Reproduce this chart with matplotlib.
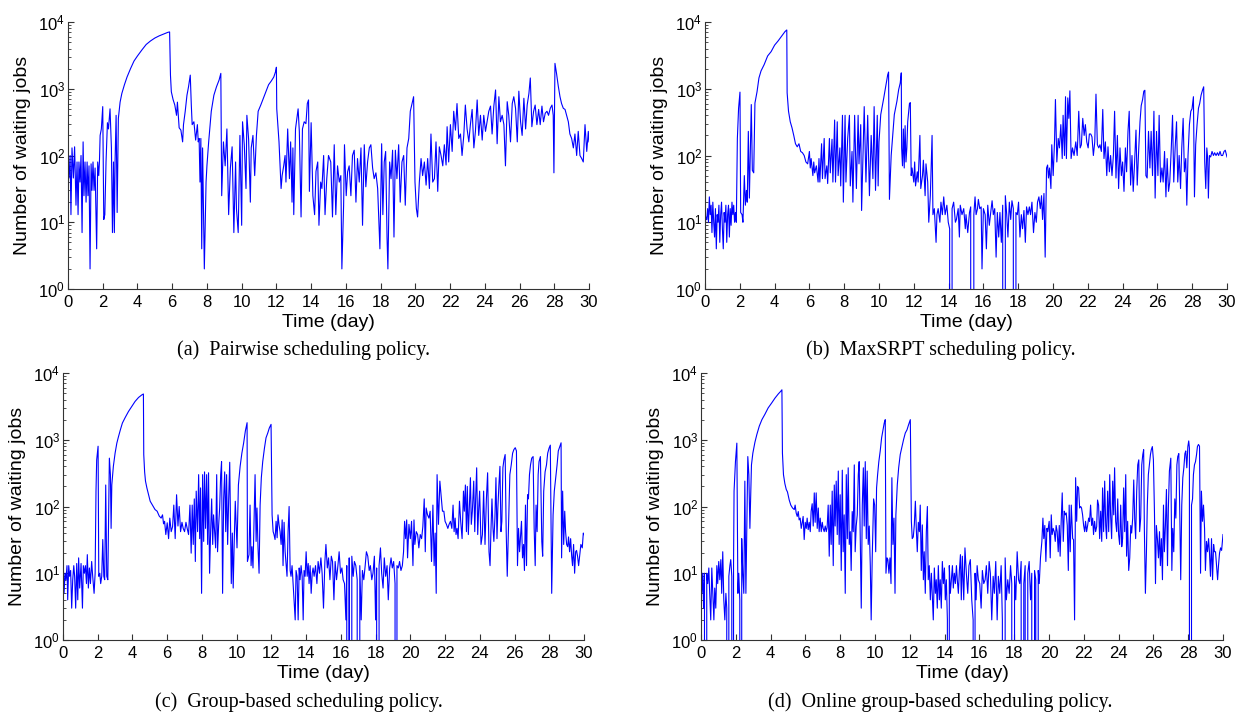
import numpy as np
import matplotlib.pyplot as plt
from matplotlib.ticker import LogLocator, NullFormatter

plt.rcParams['font.family'] = 'Liberation Sans'
plt.rcParams['mathtext.fontset'] = 'custom'
plt.rcParams['mathtext.rm'] = 'Liberation Sans'
plt.rcParams['mathtext.it'] = 'Liberation Sans:italic'

# (a) Pairwise
a_days = [0.0, 0.06, 0.12, 0.17, 0.23, 0.31, 0.38, 0.46, 0.52, 0.58,
          0.63, 0.69, 0.75, 0.81, 0.87, 0.92, 0.98, 1.04, 1.1, 1.15,
          1.21, 1.27, 1.33, 1.38, 1.44, 1.5, 1.56, 1.65, 1.71, 1.77,
          1.81, 1.85, 1.92, 2.0, 2.06, 2.12, 2.19, 2.27, 2.33, 2.42,
          2.5, 2.56, 2.62, 2.67, 2.71, 2.77, 2.83, 2.9, 3.0, 3.1,
          3.25, 3.4, 3.6, 3.8, 4.0, 4.25, 4.5, 4.75, 5.0, 5.25,
          5.5, 5.75, 5.85, 5.9, 5.95, 6.05, 6.15, 6.25, 6.3, 6.4,
          6.5, 6.6, 6.65, 6.75, 6.85, 6.94, 7.04, 7.1, 7.15, 7.25,
          7.35, 7.45, 7.5, 7.55, 7.6, 7.65, 7.7, 7.75, 7.85, 7.95,
          8.0, 8.1, 8.25, 8.4, 8.55, 8.7, 8.8, 8.85, 8.95, 9.05,
          9.15, 9.25, 9.35, 9.45, 9.55, 9.65, 9.7, 9.8, 9.9, 10.0,
          10.05, 10.15, 10.25, 10.3, 10.4, 10.5, 10.55, 10.65, 10.75, 10.85,
          10.95, 11.1, 11.25, 11.4, 11.55, 11.7, 11.85, 11.95, 12.0, 12.02,
          12.15, 12.27, 12.33, 12.42, 12.5, 12.55, 12.65, 12.75, 12.82, 12.9,
          12.95, 13.0, 13.1, 13.25, 13.32, 13.42, 13.5, 13.6, 13.7, 13.78,
          13.85, 13.9, 14.0, 14.1, 14.2, 14.28, 14.38, 14.45, 14.55, 14.62,
          14.72, 14.8, 14.9, 15.0, 15.13, 15.23, 15.33, 15.42, 15.52, 15.62,
          15.71, 15.77, 15.87, 15.92, 16.02, 16.1, 16.19, 16.29, 16.38, 16.48,
          16.58, 16.67, 16.77, 16.87, 16.96, 17.06, 17.15, 17.25, 17.35, 17.44,
          17.54, 17.63, 17.73, 17.83, 17.96, 18.06, 18.13, 18.21, 18.29, 18.37,
          18.42, 18.52, 18.6, 18.69, 18.77, 18.85, 18.94, 19.04, 19.13, 19.23,
          19.33, 19.42, 19.52, 19.62, 19.71, 19.81, 19.9, 19.98, 20.06, 20.13,
          20.23, 20.33, 20.42, 20.52, 20.62, 20.71, 20.81, 20.9, 21.0, 21.1,
          21.19, 21.29, 21.38, 21.48, 21.58, 21.67, 21.77, 21.83, 21.92, 22.02,
          22.12, 22.21, 22.31, 22.4, 22.5, 22.6, 22.69, 22.79, 22.88, 22.98,
          23.08, 23.17, 23.27, 23.37, 23.46, 23.56, 23.65, 23.75, 23.85, 23.94,
          24.04, 24.13, 24.23, 24.33, 24.42, 24.52, 24.62, 24.71, 24.81, 24.9,
          25.0, 25.1, 25.19, 25.29, 25.38, 25.48, 25.58, 25.67, 25.77, 25.87,
          25.96, 26.06, 26.15, 26.25, 26.35, 26.44, 26.54, 26.62, 26.71, 26.81,
          26.9, 27.0, 27.1, 27.19, 27.29, 27.38, 27.48, 27.58, 27.67, 27.77,
          27.87, 27.94, 27.98, 28.04, 28.13, 28.23, 28.33, 28.42, 28.52, 28.62,
          28.71, 28.81, 28.9, 29.0, 29.1, 29.19, 29.29, 29.38, 29.48, 29.58,
          29.67, 29.77, 29.87, 29.96, 30.0]
a_jobs = [72, 46, 100, 13, 130, 46, 135, 18, 80, 13,
          80, 40, 100, 7, 160, 25, 80, 20, 80, 25,
          70, 2, 75, 30, 80, 30, 65, 4, 80, 50,
          80, 200, 250, 540, 11, 13, 80, 310, 250, 500,
          130, 7, 80, 7, 80, 400, 14, 360, 630, 850,
          1150, 1500, 2000, 2600, 3100, 3800, 4600, 5200, 5750, 6200,
          6600, 7000, 7100, 1600, 900, 690, 570, 400, 630, 260,
          240, 160, 290, 460, 800, 1070, 1600, 570, 290, 320,
          170, 290, 160, 180, 40, 180, 4, 130, 2, 40,
          70, 160, 460, 800, 1070, 1350, 1700, 25, 160, 70,
          250, 13, 65, 135, 7, 80, 16, 7, 200, 9,
          320, 145, 32, 400, 175, 20, 130, 200, 50, 200,
          460, 570, 720, 900, 1150, 1300, 1500, 1800, 2100, 500,
          160, 32, 50, 70, 100, 40, 250, 45, 160, 20,
          130, 13, 250, 500, 230, 12, 250, 320, 300, 600,
          680, 29, 310, 25, 13, 58, 80, 9, 40, 32,
          100, 13, 45, 100, 80, 12, 145, 13, 70, 40,
          50, 2, 18, 145, 25, 57, 70, 25, 100, 120,
          20, 90, 40, 130, 9, 145, 34, 80, 130, 145,
          65, 45, 55, 32, 4, 150, 13, 80, 115, 6,
          2, 80, 45, 120, 6, 120, 45, 145, 20, 80,
          100, 18, 130, 180, 460, 600, 760, 40, 16, 12,
          40, 90, 50, 80, 36, 90, 32, 210, 40, 45,
          160, 29, 135, 100, 70, 145, 72, 270, 80, 290,
          115, 460, 240, 600, 180, 210, 100, 200, 570, 250,
          160, 290, 490, 130, 230, 680, 200, 400, 170, 400,
          230, 320, 460, 550, 210, 550, 960, 150, 760, 320,
          400, 290, 70, 640, 400, 160, 600, 760, 510, 160,
          920, 320, 200, 720, 250, 570, 850, 1450, 270, 460,
          570, 290, 490, 290, 550, 320, 430, 460, 400, 510,
          570, 400, 55, 2400, 1700, 1100, 760, 600, 510, 490,
          400, 320, 210, 180, 130, 210, 100, 230, 100, 90,
          80, 290, 115, 230, 160]

# (b) MaxSRPT
b_days = [0.0, 0.05, 0.1, 0.15, 0.2, 0.25, 0.3, 0.35, 0.4, 0.45,
          0.5, 0.55, 0.6, 0.65, 0.7, 0.75, 0.8, 0.85, 0.9, 0.95,
          1.0, 1.05, 1.1, 1.15, 1.2, 1.25, 1.3, 1.35, 1.4, 1.45,
          1.5, 1.55, 1.6, 1.65, 1.7, 1.75, 1.8, 1.86, 1.93, 2.01,
          2.05, 2.13, 2.18, 2.26, 2.32, 2.38, 2.43, 2.49, 2.55, 2.6,
          2.66, 2.72, 2.8, 2.87, 2.99, 3.1, 3.22, 3.4, 3.6, 3.8,
          4.0, 4.2, 4.4, 4.6, 4.7, 4.72, 4.8, 4.9, 5.0, 5.1,
          5.2, 5.3, 5.4, 5.5, 5.6, 5.7, 5.8, 5.9, 6.0, 6.05,
          6.1, 6.2, 6.25, 6.3, 6.4, 6.5, 6.55, 6.6, 6.7, 6.75,
          6.85, 6.9, 7.0, 7.05, 7.15, 7.2, 7.3, 7.35, 7.45, 7.5,
          7.6, 7.65, 7.75, 7.8, 7.9, 7.95, 8.05, 8.1, 8.2, 8.3,
          8.35, 8.45, 8.5, 8.6, 8.7, 8.8, 8.85, 8.95, 9.0, 9.15,
          9.25, 9.35, 9.45, 9.55, 9.65, 9.72, 9.8, 9.9, 9.95, 10.0,
          10.1, 10.27, 10.4, 10.5, 10.55, 10.6, 10.7, 10.88, 11.03, 11.13,
          11.22, 11.28, 11.3, 11.35, 11.4, 11.45, 11.5, 11.55, 11.6, 11.65,
          11.75, 11.8, 11.85, 11.9, 12.0, 12.05, 12.1, 12.2, 12.25, 12.35,
          12.4, 12.5, 12.55, 12.65, 12.7, 12.8, 12.86, 12.95, 13.05, 13.1,
          13.18, 13.28, 13.33, 13.4, 13.5, 13.56, 13.64, 13.72, 13.8, 13.9,
          13.98, 14.06, 14.1, 14.2, 14.29, 14.39, 14.45, 14.55, 14.62, 14.67,
          14.77, 14.87, 14.96, 15.0, 15.1, 15.2, 15.27, 15.37, 15.45, 15.52,
          15.58, 15.66, 15.71, 15.79, 15.87, 15.92, 16.0, 16.1, 16.17, 16.25,
          16.34, 16.42, 16.5, 16.57, 16.65, 16.73, 16.8, 16.88, 16.95, 17.03,
          17.11, 17.18, 17.26, 17.34, 17.41, 17.49, 17.57, 17.64, 17.72, 17.8,
          17.87, 17.95, 18.02, 18.1, 18.18, 18.25, 18.33, 18.41, 18.48, 18.56,
          18.64, 18.71, 18.79, 18.88, 18.96, 19.04, 19.11, 19.19, 19.27, 19.34,
          19.4, 19.48, 19.55, 19.63, 19.69, 19.74, 19.8, 19.88, 19.93, 20.01,
          20.09, 20.14, 20.22, 20.3, 20.37, 20.45, 20.53, 20.58, 20.66, 20.72,
          20.77, 20.85, 20.91, 20.97, 21.04, 21.12, 21.21, 21.31, 21.39, 21.48,
          21.56, 21.63, 21.71, 21.79, 21.86, 21.94, 22.02, 22.09, 22.17, 22.24,
          22.32, 22.4, 22.47, 22.55, 22.63, 22.7, 22.78, 22.86, 22.93, 23.01,
          23.09, 23.16, 23.24, 23.31, 23.39, 23.47, 23.54, 23.62, 23.7, 23.77,
          23.85, 23.93, 24.0, 24.08, 24.16, 24.23, 24.31, 24.38, 24.46, 24.54,
          24.61, 24.69, 24.77, 24.84, 24.92, 25.0, 25.07, 25.15, 25.22, 25.28,
          25.34, 25.41, 25.49, 25.57, 25.64, 25.72, 25.8, 25.87, 25.95, 26.03,
          26.1, 26.18, 26.26, 26.33, 26.41, 26.49, 26.56, 26.64, 26.71, 26.79,
          26.87, 26.94, 27.02, 27.1, 27.17, 27.25, 27.33, 27.4, 27.48, 27.55,
          27.63, 27.69, 27.76, 27.84, 27.92, 27.99, 28.07, 28.13, 28.2, 28.28,
          28.36, 28.43, 28.51, 28.59, 28.66, 28.72, 28.78, 28.84, 28.89, 28.93,
          28.99, 29.06, 29.14, 29.22, 29.29, 29.37, 29.45, 29.52, 29.6, 29.67,
          29.75, 29.83, 29.9, 30.0]
b_jobs = [8, 12, 11, 16, 10, 24, 13, 18, 7, 20,
          10, 6, 16, 4, 13, 10, 18, 5, 13, 20,
          8, 4, 14, 10, 18, 5, 13, 18, 6, 16,
          9, 20, 13, 18, 10, 14, 10, 180, 510, 890,
          14, 13, 10, 50, 18, 30, 20, 230, 23, 100,
          580, 60, 55, 610, 900, 1450, 1850, 2300, 3100, 3600,
          4500, 5200, 6100, 7200, 7600, 870, 460, 320, 260, 200,
          150, 135, 150, 115, 110, 100, 80, 75, 115, 65,
          90, 50, 80, 55, 70, 40, 90, 40, 150, 45,
          180, 45, 70, 38, 180, 55, 175, 40, 340, 40,
          320, 50, 130, 35, 400, 20, 400, 40, 180, 400,
          35, 115, 20, 400, 32, 400, 75, 290, 15, 540,
          40, 400, 25, 200, 45, 540, 30, 400, 35, 160,
          410, 720, 1150, 1620, 1780, 22, 100, 410, 650, 970,
          1220, 1730, 130, 70, 250, 65, 280, 80, 130, 320,
          600, 620, 50, 65, 40, 80, 35, 57, 40, 200,
          32, 50, 85, 25, 75, 40, 10, 25, 200, 13,
          16, 5, 13, 16, 10, 20, 13, 24, 13, 18,
          10, 8, 0, 16, 20, 10, 11, 16, 6, 18,
          13, 16, 8, 13, 7, 14, 17, 0, 13, 24,
          13, 16, 22, 16, 17, 2, 16, 13, 4, 18,
          9, 14, 21, 13, 16, 3, 14, 6, 14, 5,
          18, 0, 25, 13, 6, 20, 11, 21, 16, 0,
          14, 13, 20, 6, 13, 8, 15, 5, 17, 13,
          17, 13, 20, 7, 14, 10, 20, 24, 16, 25,
          11, 27, 3, 65, 72, 46, 65, 32, 145, 50,
          170, 690, 80, 180, 130, 290, 90, 400, 100, 760,
          90, 730, 360, 930, 90, 130, 100, 160, 100, 460,
          130, 145, 360, 200, 290, 160, 130, 210, 210, 190,
          100, 160, 830, 145, 130, 145, 115, 490, 90, 160,
          50, 135, 57, 100, 50, 100, 460, 46, 200, 32,
          130, 50, 80, 29, 130, 57, 230, 460, 36, 100,
          29, 80, 240, 36, 115, 320, 560, 690, 920, 950,
          50, 46, 230, 65, 230, 50, 460, 23, 230, 50,
          400, 40, 65, 40, 115, 24, 90, 29, 40, 115,
          400, 40, 130, 320, 40, 100, 32, 130, 360, 57,
          90, 18, 100, 290, 460, 500, 760, 24, 145, 290,
          510, 600, 800, 950, 1070, 80, 32, 130, 90, 23,
          100, 95, 115, 100, 110, 100, 110, 100, 115, 100,
          100, 115, 120, 95]

# (c) Group-based
c_days = [0.0, 0.06, 0.12, 0.17, 0.23, 0.27, 0.33, 0.38, 0.44, 0.5,
          0.56, 0.62, 0.67, 0.73, 0.79, 0.85, 0.9, 0.96, 1.04, 1.12,
          1.17, 1.23, 1.29, 1.35, 1.4, 1.46, 1.52, 1.58, 1.65, 1.71,
          1.79, 1.85, 1.9, 1.94, 2.02, 2.06, 2.12, 2.17, 2.23, 2.29,
          2.35, 2.4, 2.46, 2.52, 2.58, 2.62, 2.67, 2.73, 2.77, 2.81,
          2.9, 3.0, 3.1, 3.19, 3.3, 3.42, 3.58, 3.77, 3.96, 4.15,
          4.35, 4.54, 4.63, 4.65, 4.7, 4.75, 4.83, 4.9, 5.02, 5.15,
          5.3, 5.42, 5.54, 5.65, 5.73, 5.79, 5.85, 5.92, 6.0, 6.08,
          6.15, 6.23, 6.31, 6.38, 6.46, 6.54, 6.62, 6.69, 6.77, 6.85,
          6.92, 7.0, 7.08, 7.15, 7.23, 7.31, 7.38, 7.44, 7.5, 7.56,
          7.62, 7.67, 7.75, 7.81, 7.87, 7.92, 7.98, 8.04, 8.1, 8.15,
          8.21, 8.27, 8.33, 8.38, 8.44, 8.5, 8.56, 8.62, 8.67, 8.73,
          8.79, 8.85, 8.9, 8.96, 9.02, 9.08, 9.13, 9.19, 9.25, 9.31,
          9.37, 9.42, 9.48, 9.54, 9.6, 9.69, 9.75, 9.8, 9.86, 9.92,
          10.02, 10.1, 10.2, 10.3, 10.4, 10.5, 10.6, 10.62, 10.71, 10.77,
          10.83, 10.88, 10.94, 11.0, 11.06, 11.12, 11.17, 11.23, 11.29, 11.35,
          11.42, 11.5, 11.6, 11.69, 11.79, 11.88, 11.98, 12.04, 12.1, 12.15,
          12.21, 12.27, 12.33, 12.38, 12.44, 12.5, 12.56, 12.62, 12.67, 12.73,
          12.79, 12.85, 12.9, 12.96, 13.02, 13.08, 13.13, 13.19, 13.25, 13.31,
          13.37, 13.42, 13.48, 13.54, 13.6, 13.65, 13.71, 13.77, 13.83, 13.88,
          13.94, 14.0, 14.06, 14.12, 14.17, 14.23, 14.29, 14.35, 14.4, 14.46,
          14.54, 14.62, 14.69, 14.77, 14.85, 14.92, 15.0, 15.08, 15.14, 15.22,
          15.29, 15.37, 15.45, 15.52, 15.6, 15.67, 15.75, 15.83, 15.9, 15.98,
          16.06, 16.13, 16.21, 16.29, 16.34, 16.4, 16.48, 16.55, 16.63, 16.71,
          16.78, 16.86, 16.94, 17.01, 17.09, 17.17, 17.24, 17.32, 17.4, 17.47,
          17.55, 17.63, 17.7, 17.78, 17.85, 17.93, 18.0, 18.06, 18.12, 18.2,
          18.28, 18.35, 18.43, 18.5, 18.58, 18.66, 18.73, 18.81, 18.89, 18.96,
          19.04, 19.12, 19.17, 19.23, 19.31, 19.38, 19.46, 19.54, 19.61, 19.67,
          19.73, 19.79, 19.84, 19.92, 20.0, 20.07, 20.15, 20.21, 20.26, 20.34,
          20.42, 20.49, 20.57, 20.65, 20.72, 20.8, 20.86, 20.91, 20.99, 21.07,
          21.14, 21.22, 21.3, 21.37, 21.43, 21.49, 21.54, 21.62, 21.7, 21.77,
          21.85, 21.93, 22.0, 22.08, 22.16, 22.23, 22.31, 22.39, 22.46, 22.52,
          22.58, 22.63, 22.69, 22.75, 22.83, 22.9, 22.98, 23.06, 23.11, 23.17,
          23.23, 23.28, 23.34, 23.4, 23.46, 23.51, 23.57, 23.65, 23.71, 23.76,
          23.82, 23.88, 23.93, 23.99, 24.07, 24.15, 24.22, 24.3, 24.38, 24.45,
          24.53, 24.59, 24.64, 24.7, 24.76, 24.81, 24.87, 24.93, 24.99, 25.04,
          25.1, 25.16, 25.22, 25.27, 25.33, 25.39, 25.46, 25.52, 25.58, 25.66,
          25.73, 25.81, 25.89, 25.96, 26.04, 26.11, 26.17, 26.23, 26.29, 26.34,
          26.4, 26.46, 26.52, 26.57, 26.63, 26.69, 26.75, 26.8, 26.86, 26.92,
          26.99, 27.07, 27.13, 27.19, 27.24, 27.3, 27.36, 27.41, 27.49, 27.57,
          27.62, 27.68, 27.76, 27.84, 27.91, 27.99, 28.06, 28.14, 28.22, 28.29,
          28.37, 28.45, 28.52, 28.6, 28.68, 28.71, 28.77, 28.83, 28.89, 28.94,
          29.0, 29.06, 29.11, 29.17, 29.23, 29.29, 29.34, 29.4, 29.46, 29.52,
          29.57, 29.63, 29.69, 29.75, 29.82, 29.9, 29.96, 30.0]
c_jobs = [21, 5, 10, 8, 13, 4, 13, 9, 11, 3,
          8, 13, 9, 3, 14, 4, 17, 6, 14, 3,
          13, 10, 13, 7, 19, 6, 12, 7, 15, 9,
          5, 10, 170, 500, 800, 9, 10, 7, 9, 32,
          9, 8, 210, 9, 8, 47, 530, 300, 47, 210,
          400, 630, 890, 1100, 1400, 1780, 2150, 2650, 3150, 3750,
          4300, 4700, 4850, 600, 330, 240, 190, 160, 120, 105,
          90, 85, 72, 67, 75, 55, 60, 38, 57, 33,
          67, 42, 50, 105, 33, 150, 51, 100, 42, 58,
          47, 42, 58, 47, 38, 105, 20, 105, 27, 130,
          15, 170, 42, 300, 33, 190, 5, 300, 30, 330,
          47, 300, 27, 320, 10, 42, 130, 27, 75, 42,
          24, 300, 21, 51, 95, 300, 470, 5, 130, 330,
          42, 300, 27, 130, 460, 7, 40, 6, 30, 120,
          24, 210, 400, 630, 890, 1350, 1800, 15, 19, 105,
          13, 25, 12, 60, 300, 30, 95, 24, 10, 105,
          270, 470, 750, 1070, 1260, 1500, 1700, 75, 42, 38,
          32, 60, 34, 75, 53, 42, 27, 63, 13, 58,
          21, 13, 9, 42, 100, 11, 9, 13, 7, 4,
          2, 11, 9, 2, 12, 8, 13, 9, 2, 11,
          9, 21, 9, 14, 7, 13, 5, 10, 12, 9,
          13, 7, 15, 10, 17, 10, 3, 15, 27, 12,
          17, 8, 18, 15, 4, 15, 8, 13, 21, 10,
          12, 8, 7, 2, 13, 0, 17, 0, 18, 9,
          15, 13, 8, 0, 13, 2, 11, 8, 13, 21,
          18, 11, 13, 8, 10, 18, 2, 12, 0, 13,
          24, 10, 6, 17, 9, 13, 4, 12, 17, 12,
          15, 7, 0, 13, 12, 15, 11, 13, 21, 60,
          33, 63, 17, 54, 33, 60, 13, 63, 27, 42,
          38, 24, 38, 33, 50, 130, 21, 95, 75, 67,
          85, 15, 105, 13, 40, 5, 300, 54, 240, 150,
          85, 85, 60, 54, 47, 54, 60, 47, 105, 42,
          67, 38, 47, 33, 120, 60, 33, 170, 85, 210,
          42, 200, 38, 105, 270, 54, 85, 240, 42, 130,
          380, 38, 85, 170, 27, 38, 170, 27, 130, 320,
          21, 13, 42, 130, 47, 30, 67, 270, 33, 95,
          210, 400, 42, 60, 380, 500, 600, 42, 9, 60,
          300, 420, 630, 710, 760, 680, 13, 47, 21, 33,
          60, 17, 27, 11, 105, 13, 150, 130, 300, 420,
          530, 560, 47, 13, 105, 42, 300, 470, 560, 30,
          18, 170, 330, 420, 630, 750, 830, 5, 75, 170,
          270, 420, 680, 780, 900, 17, 170, 27, 85, 42,
          27, 25, 35, 21, 33, 18, 13, 27, 10, 21,
          22, 18, 13, 18, 27, 24, 40, 38]

# (d) Online group-based
d_days = [0.0, 0.05, 0.1, 0.15, 0.2, 0.27, 0.33, 0.39, 0.45, 0.5,
          0.56, 0.62, 0.68, 0.74, 0.79, 0.85, 0.91, 0.96, 1.02, 1.08,
          1.14, 1.19, 1.25, 1.31, 1.37, 1.43, 1.48, 1.54, 1.6, 1.66,
          1.71, 1.77, 1.81, 1.87, 1.9, 1.98, 2.06, 2.12, 2.17, 2.23,
          2.29, 2.34, 2.4, 2.46, 2.52, 2.58, 2.63, 2.69, 2.75, 2.81,
          2.86, 2.9, 2.98, 3.1, 3.21, 3.35, 3.5, 3.67, 3.86, 4.06,
          4.25, 4.44, 4.59, 4.65, 4.68, 4.74, 4.82, 4.9, 4.97, 5.07,
          5.16, 5.26, 5.36, 5.41, 5.47, 5.53, 5.59, 5.64, 5.7, 5.76,
          5.82, 5.87, 5.93, 5.99, 6.05, 6.1, 6.16, 6.22, 6.28, 6.33,
          6.39, 6.45, 6.51, 6.56, 6.62, 6.68, 6.74, 6.79, 6.85, 6.91,
          6.97, 7.02, 7.08, 7.14, 7.2, 7.25, 7.31, 7.37, 7.43, 7.48,
          7.54, 7.6, 7.66, 7.71, 7.77, 7.83, 7.89, 7.94, 8.0, 8.06,
          8.12, 8.17, 8.23, 8.29, 8.35, 8.41, 8.46, 8.52, 8.58, 8.63,
          8.69, 8.75, 8.81, 8.86, 8.92, 8.98, 9.04, 9.09, 9.15, 9.21,
          9.27, 9.33, 9.38, 9.44, 9.5, 9.55, 9.61, 9.67, 9.73, 9.78,
          9.84, 9.92, 9.98, 10.04, 10.09, 10.15, 10.22, 10.3, 10.38, 10.46,
          10.53, 10.59, 10.63, 10.69, 10.74, 10.8, 10.86, 10.92, 10.97, 11.03,
          11.09, 11.15, 11.2, 11.28, 11.36, 11.45, 11.55, 11.64, 11.74, 11.84,
          11.93, 12.03, 12.09, 12.14, 12.2, 12.26, 12.32, 12.37, 12.43, 12.49,
          12.55, 12.6, 12.66, 12.72, 12.78, 12.83, 12.89, 12.95, 13.01, 13.06,
          13.12, 13.18, 13.24, 13.29, 13.35, 13.41, 13.47, 13.52, 13.58, 13.64,
          13.7, 13.75, 13.81, 13.87, 13.93, 13.99, 14.04, 14.1, 14.16, 14.21,
          14.27, 14.33, 14.39, 14.45, 14.5, 14.56, 14.62, 14.68, 14.73, 14.79,
          14.85, 14.91, 14.96, 15.02, 15.1, 15.17, 15.25, 15.33, 15.4, 15.48,
          15.56, 15.64, 15.69, 15.75, 15.81, 15.87, 15.94, 16.02, 16.1, 16.17,
          16.25, 16.33, 16.4, 16.48, 16.56, 16.63, 16.71, 16.79, 16.86, 16.94,
          17.02, 17.09, 17.17, 17.25, 17.32, 17.4, 17.48, 17.55, 17.63, 17.71,
          17.79, 17.86, 17.94, 18.02, 18.09, 18.17, 18.25, 18.32, 18.4, 18.48,
          18.55, 18.63, 18.71, 18.78, 18.86, 18.94, 19.01, 19.09, 19.17, 19.24,
          19.32, 19.38, 19.44, 19.51, 19.59, 19.65, 19.7, 19.76, 19.82, 19.88,
          19.93, 20.01, 20.07, 20.13, 20.18, 20.24, 20.3, 20.36, 20.41, 20.47,
          20.53, 20.59, 20.64, 20.7, 20.76, 20.82, 20.88, 20.93, 20.99, 21.05,
          21.11, 21.16, 21.22, 21.28, 21.36, 21.41, 21.47, 21.53, 21.59, 21.64,
          21.7, 21.76, 21.82, 21.87, 21.93, 21.99, 22.05, 22.1, 22.16, 22.22,
          22.28, 22.33, 22.39, 22.45, 22.51, 22.56, 22.62, 22.68, 22.74, 22.79,
          22.85, 22.91, 22.97, 23.03, 23.08, 23.14, 23.2, 23.26, 23.31, 23.37,
          23.43, 23.49, 23.54, 23.6, 23.66, 23.72, 23.77, 23.83, 23.89, 23.95,
          24.0, 24.06, 24.12, 24.18, 24.23, 24.29, 24.35, 24.41, 24.46, 24.52,
          24.58, 24.64, 24.7, 24.75, 24.81, 24.87, 24.93, 24.98, 25.04, 25.1,
          25.16, 25.21, 25.27, 25.33, 25.39, 25.44, 25.48, 25.54, 25.6, 25.65,
          25.71, 25.77, 25.83, 25.88, 25.94, 26.0, 26.06, 26.12, 26.17, 26.23,
          26.29, 26.35, 26.4, 26.46, 26.52, 26.58, 26.63, 26.69, 26.75, 26.81,
          26.86, 26.92, 27.0, 27.06, 27.11, 27.17, 27.23, 27.29, 27.35, 27.4,
          27.46, 27.52, 27.57, 27.63, 27.69, 27.75, 27.81, 27.86, 27.92, 27.98,
          28.03, 28.07, 28.13, 28.19, 28.25, 28.3, 28.36, 28.42, 28.48, 28.53,
          28.59, 28.65, 28.71, 28.76, 28.82, 28.88, 28.94, 28.99, 29.05, 29.11,
          29.17, 29.22, 29.28, 29.34, 29.4, 29.46, 29.51, 29.57, 29.63, 29.69,
          29.74, 29.8, 29.86, 29.92, 30.0]
d_jobs = [20, 5, 10, 3, 10, 0, 10, 7, 12, 5,
          2, 12, 5, 2, 6, 3, 13, 7, 15, 8,
          16, 5, 21, 4, 2, 5, 3, 0, 9, 13,
          16, 9, 0, 13, 170, 470, 890, 5, 10, 4,
          0, 33, 10, 5, 240, 5, 42, 560, 300, 47,
          150, 420, 630, 920, 1200, 1600, 2000, 2400, 3000, 3550,
          4200, 4850, 5350, 5600, 630, 300, 220, 180, 165, 125,
          105, 95, 90, 105, 80, 71, 84, 63, 67, 47,
          58, 71, 32, 58, 47, 67, 45, 58, 42, 85,
          110, 51, 160, 58, 160, 47, 95, 42, 67, 42,
          58, 47, 42, 51, 42, 49, 105, 18, 105, 27,
          170, 13, 210, 51, 240, 38, 340, 27, 150, 11,
          350, 21, 75, 5, 300, 33, 380, 27, 42, 11,
          84, 42, 420, 21, 51, 75, 300, 470, 33, 3,
          105, 380, 51, 470, 33, 340, 27, 51, 13, 2,
          17, 130, 105, 21, 190, 300, 470, 680, 1070, 1410,
          1780, 2000, 10, 17, 16, 10, 17, 7, 270, 27,
          67, 5, 75, 210, 380, 600, 790, 1000, 1260, 1410,
          1680, 2000, 60, 33, 35, 53, 120, 49, 21, 58,
          42, 105, 11, 53, 8, 21, 5, 42, 100, 8,
          13, 4, 10, 5, 2, 12, 5, 8, 3, 13,
          4, 8, 3, 15, 7, 12, 4, 8, 2, 0,
          13, 5, 8, 13, 6, 10, 7, 13, 8, 5,
          11, 19, 4, 18, 4, 24, 10, 5, 13, 16,
          4, 2, 0, 10, 4, 13, 8, 7, 3, 11,
          7, 8, 13, 5, 15, 10, 2, 9, 5, 15,
          2, 9, 5, 13, 2, 0, 17, 4, 8, 5,
          13, 7, 0, 9, 4, 21, 8, 7, 15, 0,
          7, 13, 0, 10, 15, 4, 10, 0, 11, 8,
          0, 11, 7, 17, 30, 67, 33, 52, 15, 47,
          42, 60, 17, 75, 38, 47, 42, 30, 52, 42,
          21, 52, 18, 60, 160, 30, 85, 75, 80, 52,
          11, 105, 21, 105, 33, 32, 2, 270, 60, 200,
          190, 95, 100, 95, 75, 52, 42, 60, 42, 52,
          67, 60, 105, 52, 67, 38, 60, 42, 50, 125,
          105, 33, 85, 30, 190, 42, 240, 52, 33, 170,
          42, 300, 75, 33, 240, 75, 380, 60, 42, 130,
          38, 27, 105, 25, 33, 190, 42, 300, 18, 60,
          11, 17, 52, 40, 67, 250, 60, 33, 170, 420,
          500, 42, 67, 420, 600, 710, 47, 5, 21, 105,
          300, 420, 600, 710, 790, 500, 85, 7, 52, 33,
          17, 42, 13, 33, 8, 105, 21, 52, 180, 13,
          95, 340, 530, 11, 47, 21, 130, 67, 420, 560,
          620, 67, 8, 105, 270, 380, 620, 680, 380, 790,
          960, 750, 0, 105, 130, 300, 420, 470, 600, 790,
          850, 800, 10, 170, 60, 105, 47, 11, 30, 21,
          33, 21, 9, 33, 8, 27, 21, 21, 13, 8,
          13, 20, 24, 22, 38]

captions = ['(a)  Pairwise scheduling policy.',
            '(b)  MaxSRPT scheduling policy.',
            '(c)  Group-based scheduling policy.',
            '(d)  Online group-based scheduling policy.']

W, H = 1243, 713
fig = plt.figure(figsize=(W / 100, H / 100), dpi=100)

# axes boxes in pixels: left, top, right, bottom
boxes = [(68, 22, 589, 289), (705, 22, 1227, 289),
         (63, 373, 584, 640), (701, 373, 1223, 640)]
cap_pos = [(304, 350), (941, 350), (299, 702), (940, 702)]
series = [(a_days, a_jobs), (b_days, b_jobs), (c_days, c_jobs), (d_days, d_jobs)]

for (days, jobs), (l, t, r, b), cap, (cx, cy) in zip(series, boxes, captions, cap_pos):
    ax = fig.add_axes([l / W, 1 - b / H, (r - l) / W, (b - t) / H])
    n = min(len(days), len(jobs))
    ax.plot(days[:n], jobs[:n], color='#0000ff', lw=0.8)
    ax.set_yscale('log', nonpositive='clip')
    ax.set_xlim(0, 30)
    ax.set_ylim(1, 1e4)
    ax.set_xticks(range(0, 31, 2))
    ax.yaxis.set_major_locator(LogLocator(base=10, numticks=10))
    ax.yaxis.set_minor_locator(LogLocator(base=10, subs=np.arange(2, 10), numticks=10))
    ax.yaxis.set_minor_formatter(NullFormatter())
    ax.spines['top'].set_visible(False)
    ax.spines['right'].set_visible(False)
    for s in ['left', 'bottom']:
        ax.spines[s].set_color('#333333')
        ax.spines[s].set_linewidth(0.8)
    ax.tick_params(which='major', direction='in', length=4, width=0.8, color='#333333',
                   labelsize=12, top=False, right=False)
    ax.tick_params(axis='x', pad=4)
    ax.tick_params(axis='y', pad=2)
    ax.tick_params(which='minor', direction='in', length=2, width=0.6, color='#333333')
    ax.set_xlabel('Time (day)', fontsize=14)
    ax.xaxis.set_label_coords(0.5, -0.124)
    ax.xaxis.label.set_va('center')
    ax.set_ylabel('Number of waiting jobs', fontsize=14)
    ax.yaxis.set_label_coords(-0.087, 0.5)
    ax.yaxis.label.set_va('center')
    fig.text(cx / W, 1 - cy / H, cap, family='Liberation Serif', fontsize=14.5,
             ha='center', va='center')

fig.savefig('out.png', dpi=100)
